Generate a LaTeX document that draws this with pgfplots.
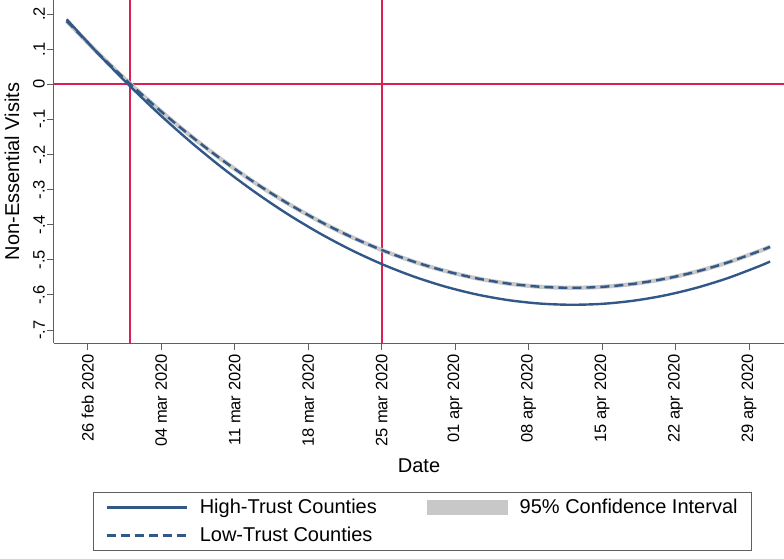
\documentclass[border=0pt]{standalone}
\usepackage{pgfplots}
\usepackage{pgfplotstable}
\pgfplotsset{compat=1.18}
\usepackage{fontspec}
\setmainfont{Liberation Sans}
\definecolor{navyline}{RGB}{50,88,135}
\definecolor{redline}{RGB}{218,32,82}
\definecolor{cigray}{RGB}{200,200,200}
\definecolor{axgray}{RGB}{95,95,95}

\pgfplotstableread{
d high low
-2 0.1850 0.1800
1 0.0870 0.0882
4 -0.0047 0.0024
7 -0.0902 -0.0776
10 -0.1693 -0.1516
13 -0.2422 -0.2198
16 -0.3087 -0.2820
19 -0.3690 -0.3384
22 -0.4229 -0.3888
25 -0.4706 -0.4334
28 -0.5120 -0.4720
31 -0.5471 -0.5047
34 -0.5759 -0.5315
37 -0.5984 -0.5525
40 -0.6146 -0.5675
43 -0.6245 -0.5766
46 -0.6281 -0.5798
49 -0.6255 -0.5771
52 -0.6165 -0.5685
55 -0.6013 -0.5540
58 -0.5797 -0.5336
61 -0.5519 -0.5073
64 -0.5178 -0.4750
65 -0.5050 -0.4630
}\curves

\pgfplotstableread{
x y
4 -0.737
4 0.2399
}\vlineA
\pgfplotstableread{
x y
28 -0.737
28 0.2399
}\vlineB
\pgfplotstableread{
x y
-3.21 0
66.33 0
}\hline

\begin{document}
\begin{tikzpicture}
\begin{axis}[
  scale only axis,
  width=730pt, height=343pt,
  xmin=-3.21, xmax=66.33,
  ymin=-0.737, ymax=0.2399,
  axis x line*=bottom, axis y line*=left,
  axis line style={axgray, line width=1pt},
  tick style={axgray, line width=1pt},
  tick align=outside,
  major tick length=7pt,
  xtick={0,7,14,21,28,35,42,49,56,63},
  xticklabels={26 feb 2020,04 mar 2020,11 mar 2020,18 mar 2020,25 mar 2020,01 apr 2020,08 apr 2020,15 apr 2020,22 apr 2020,29 apr 2020},
  ytick={-0.7,-0.6,-0.5,-0.4,-0.3,-0.2,-0.1,0,0.1,0.2},
  yticklabels={{-.7},{-.6},{-.5},{-.4},{-.3},{-.2},{-.1},{0},{.1},{.2}},
  /pgf/number format/assume math mode=true,
  ticklabel style={font=\fontsize{16.5}{18}\selectfont},
  xticklabel style={rotate=90, anchor=east, inner sep=4pt},
  yticklabel style={rotate=90, anchor=south, inner sep=2pt},
  xlabel={Date},
  ylabel={Non-Essential Visits},
  label style={font=\fontsize{20}{24}\selectfont},
  xlabel style={at={(axis description cs:0.5,-0.3586)}, anchor=center},
  ylabel style={at={(axis description cs:-0.0575,0.5)}, anchor=center, rotate=0},
  legend columns=2,
  legend style={at={(axis description cs:0.5048,-0.5204)}, anchor=center,
    draw=axgray, line width=0.8pt, inner xsep=12pt, inner ysep=5pt,
    font=\fontsize{20}{24}\selectfont, row sep=8pt,
    /tikz/every odd column/.append style={column sep=10pt},
    /tikz/every even column/.append style={column sep=48pt},
    cells={anchor=west}},
  legend image code/.code={\draw[#1] (0pt,0pt) -- (80pt,0pt);},
  clip=false,
]
% reference lines
\addplot[draw=redline, line width=2pt, forget plot] table[x=x, y=y] {\vlineA};
\addplot[draw=redline, line width=2pt, forget plot] table[x=x, y=y] {\vlineB};
\addplot[draw=redline, line width=2pt, forget plot] table[x=x, y=y] {\hline};
% confidence interval around low-trust estimate
\addplot[draw=cigray, line width=4.2pt, smooth, forget plot] table[x=d, y=low] {\curves};
% estimates
\addplot[draw=navyline, line width=2.4pt, smooth, forget plot] table[x=d, y=high] {\curves};
\addplot[draw=navyline, line width=2.4pt, smooth, dash pattern=on 9pt off 5pt, forget plot] table[x=d, y=low] {\curves};
% legend entries
\addlegendimage{draw=navyline, line width=2.4pt}
\addlegendentry{High-Trust Counties}
\addlegendimage{legend image code/.code={\fill[cigray] (0pt,-7pt) rectangle (80pt,7pt);}}
\addlegendentry{95\% Confidence Interval}
\addlegendimage{draw=navyline, line width=2.4pt, dash pattern=on 9pt off 5pt}
\addlegendentry{Low-Trust Counties}
\end{axis}
\pgfresetboundingbox
\path (-54pt,-216pt) rectangle (730pt,343pt);
\end{tikzpicture}
\end{document}
